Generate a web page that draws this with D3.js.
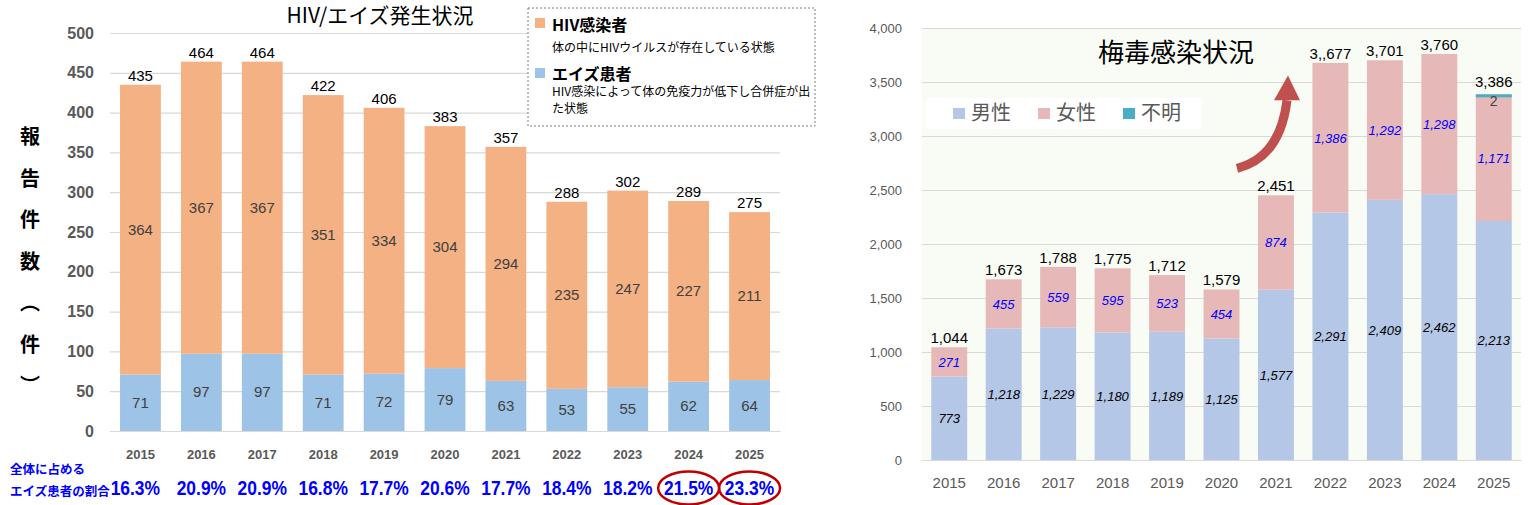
<!DOCTYPE html>
<html>
<head>
<meta charset="utf-8">
<script src="https://cdn.jsdelivr.net/npm/d3@7"></script>
<style>
  body { margin: 0; background: #fff; }
  svg text { font-family: "Liberation Sans", Arial, sans-serif; }
  .jp { font-family: "Noto Sans CJK JP", sans-serif !important; }
</style>
</head>
<body>
<div id="chart"></div>
<script>
// ---- data ----
const years = ["2015", "2016", "2017", "2018", "2019", "2020", "2021", "2022", "2023", "2024", "2025"];

// HIV / AIDS (left chart)
const hivCarriers = [364, 367, 367, 351, 334, 304, 294, 235, 247, 227, 211];
const aidsPatients = [71, 97, 97, 71, 72, 79, 63, 53, 55, 62, 64];
const aidsShare = [16.3, 20.9, 20.9, 16.8, 17.7, 20.6, 17.7, 18.4, 18.2, 21.5, 23.3];
const circledYears = ["2024", "2025"];
const leftTicks = [0, 50, 100, 150, 200, 250, 300, 350, 400, 450, 500];

// syphilis (right chart)
const syphMale = [773, 1218, 1229, 1180, 1189, 1125, 1577, 2291, 2409, 2462, 2213];
const syphFemale = [271, 455, 559, 595, 523, 454, 874, 1386, 1292, 1298, 1171];
const syphUnknown = [0, 0, 0, 0, 0, 0, 0, 0, 0, 0, 2];
const syphTotalLabels = ["1,044", "1,673", "1,788", "1,775", "1,712", "1,579", "2,451", "3,,677", "3,701", "3,760", "3,386"];
const rightTicks = [0, 500, 1000, 1500, 2000, 2500, 3000, 3500, 4000];

const W = 1532, H = 505;
const svg = d3.select("#chart").append("svg")
    .attr("width", W)
    .attr("height", H);

// =================== left chart ===================
const left = svg.append("g");

const xL = d3.scaleBand()
    .domain(years)
    .range([110, 780])
    .paddingInner(0.33)
    .paddingOuter(0.165);

const yL = d3.scaleLinear()
    .domain([0, 500])
    .range([431, 33]);

// gridlines + tick labels
const yAxisL = left.append("g")
    .attr("transform", "translate(110,0)")
    .call(d3.axisLeft(yL).tickValues(leftTicks).tickSize(-670).tickPadding(16));
yAxisL.select(".domain").remove();
yAxisL.selectAll(".tick line").attr("stroke", "#d9d9d9").attr("stroke-width", 1.2);
yAxisL.selectAll(".tick text")
    .attr("fill", "#595959")
    .style("font-size", "16px")
    .style("font-weight", "bold");

const xAxisL = left.append("g")
    .attr("transform", "translate(0,431)")
    .call(d3.axisBottom(xL).tickSize(0).tickPadding(19));
xAxisL.select(".domain").attr("stroke", "#d9d9d9").attr("stroke-width", 1.2);
xAxisL.selectAll(".tick text")
    .attr("fill", "#595959")
    .style("font-size", "13px")
    .style("font-weight", "bold");

const leftRows = years.map((y, i) => ({
    year: y, aids: aidsPatients[i], hiv: hivCarriers[i],
    total: aidsPatients[i] + hivCarriers[i], share: aidsShare[i]
}));

// AIDS patients (bottom)
left.selectAll("rect.aids")
    .data(leftRows)
    .enter().append("rect")
    .attr("class", "aids")
    .attr("x", d => xL(d.year))
    .attr("width", xL.bandwidth())
    .attr("y", d => yL(d.aids))
    .attr("height", d => yL(0) - yL(d.aids))
    .attr("fill", "#9dc3e6");

// HIV carriers (top)
left.selectAll("rect.hiv")
    .data(leftRows)
    .enter().append("rect")
    .attr("class", "hiv")
    .attr("x", d => xL(d.year))
    .attr("width", xL.bandwidth())
    .attr("y", d => yL(d.total))
    .attr("height", d => yL(d.aids) - yL(d.total))
    .attr("fill", "#f4b183");

// segment labels
left.selectAll("text.aidsLbl")
    .data(leftRows)
    .enter().append("text")
    .attr("x", d => xL(d.year) + xL.bandwidth() / 2)
    .attr("y", d => yL(d.aids / 2) + 5)
    .attr("text-anchor", "middle")
    .attr("fill", "#404040")
    .style("font-size", "15px")
    .text(d => d.aids);

left.selectAll("text.hivLbl")
    .data(leftRows)
    .enter().append("text")
    .attr("x", d => xL(d.year) + xL.bandwidth() / 2)
    .attr("y", d => yL(d.aids + d.hiv / 2) + 5)
    .attr("text-anchor", "middle")
    .attr("fill", "#404040")
    .style("font-size", "15px")
    .text(d => d.hiv);

// totals
left.selectAll("text.totLbl")
    .data(leftRows)
    .enter().append("text")
    .attr("x", d => xL(d.year) + xL.bandwidth() / 2)
    .attr("y", d => yL(d.total) - 4)
    .attr("text-anchor", "middle")
    .attr("fill", "#000")
    .style("font-size", "15px")
    .text(d => d.total);

// title
left.append("text")
    .attr("class", "jp")
    .attr("x", 380)
    .attr("y", 23)
    .attr("text-anchor", "middle")
    .style("font-size", "21px")
    .text("HIV/エイズ発生状況");

// vertical y-axis title
const yTitle = ["報", "告", "件", "数", "︵", "件", "︶"];
left.selectAll("text.ytitle")
    .data(yTitle)
    .enter().append("text")
    .attr("class", "jp")
    .attr("x", 30)
    .attr("y", (d, i) => 144 + i * 41.5)
    .attr("text-anchor", "middle")
    .style("font-size", "20px")
    .style("font-weight", "bold")
    .text(d => d);

// share row
left.append("text")
    .attr("class", "jp")
    .attr("x", 10).attr("y", 474)
    .attr("fill", "#0000ff")
    .style("font-size", "12.5px")
    .style("font-weight", "bold")
    .text("全体に占める");
const shareLabel = left.append("text")
    .attr("class", "jp")
    .attr("x", 10).attr("y", 496)
    .attr("fill", "#0000ff")
    .style("font-size", "12.5px")
    .style("font-weight", "bold")
    .text("エイズ患者の割合");
const shareLabelEnd = 10 + shareLabel.node().getComputedTextLength() + 1;

// condensed look: bold text squeezed horizontally
left.selectAll("text.share")
    .data(leftRows)
    .enter().append("text")
    .attr("transform", (d, i) => i === 0
        ? `translate(${shareLabelEnd},495) scale(0.83,1)`
        : `translate(${xL(d.year) + xL.bandwidth() / 2},495) scale(0.83,1)`)
    .attr("text-anchor", (d, i) => i === 0 ? "start" : "middle")
    .attr("fill", "#0000ff")
    .style("font-size", "21px")
    .style("font-weight", "bold")
    .text(d => d.share.toFixed(1) + "%");

left.selectAll("ellipse.hl")
    .data(circledYears)
    .enter().append("ellipse")
    .attr("cx", d => xL(d) + xL.bandwidth() / 2)
    .attr("cy", 488)
    .attr("rx", 30.5)
    .attr("ry", 16.5)
    .attr("fill", "none")
    .attr("stroke", "#c00000")
    .attr("stroke-width", 2.5);

// legend box
const lg = left.append("g");
lg.append("rect")
    .attr("x", 528).attr("y", 8)
    .attr("width", 287).attr("height", 118)
    .attr("fill", "#fff")
    .attr("stroke", "#7f7f7f")
    .attr("stroke-dasharray", "2,2");
lg.append("rect").attr("x", 535).attr("y", 18).attr("width", 10).attr("height", 10).attr("fill", "#f4b183");
lg.append("text").attr("class", "jp").attr("x", 552).attr("y", 31)
    .style("font-size", "16px").style("font-weight", "bold").text("HIV感染者");
lg.append("text").attr("class", "jp").attr("x", 552).attr("y", 52)
    .style("font-size", "12px").text("体の中にHIVウイルスが存在している状態");
lg.append("rect").attr("x", 535).attr("y", 68).attr("width", 10).attr("height", 10).attr("fill", "#9dc3e6");
lg.append("text").attr("class", "jp").attr("x", 552).attr("y", 80)
    .style("font-size", "16px").style("font-weight", "bold").text("エイズ患者");
lg.append("text").attr("class", "jp").attr("x", 552).attr("y", 96)
    .style("font-size", "12px").text("HIV感染によって体の免疫力が低下し合併症が出");
lg.append("text").attr("class", "jp").attr("x", 552).attr("y", 113)
    .style("font-size", "12px").text("た状態");

// =================== right chart ===================
const right = svg.append("g");

const xR = d3.scaleBand()
    .domain(years)
    .range([922, 1521])
    .paddingInner(0.34)
    .paddingOuter(0.17);

const yR = d3.scaleLinear()
    .domain([0, 4000])
    .range([460, 28]);

right.append("rect")
    .attr("x", 922).attr("y", yR(4000))
    .attr("width", 599).attr("height", yR(0) - yR(4000))
    .attr("fill", "#f9fbf5");

const yAxisR = right.append("g")
    .attr("transform", "translate(922,0)")
    .call(d3.axisLeft(yR).tickValues(rightTicks).tickSize(-599).tickPadding(20).tickFormat(d3.format(",")));
yAxisR.select(".domain").remove();
yAxisR.selectAll(".tick line").attr("stroke", "#d9d9d9").attr("stroke-width", 1.2);
yAxisR.selectAll(".tick text")
    .attr("fill", "#595959")
    .style("font-size", "13px");

const xAxisR = right.append("g")
    .attr("transform", "translate(0,460)")
    .call(d3.axisBottom(xR).tickSize(0).tickPadding(17));
xAxisR.select(".domain").attr("stroke", "#d9d9d9").attr("stroke-width", 1.2);
xAxisR.selectAll(".tick text")
    .attr("fill", "#595959")
    .style("font-size", "15px");

const rightRows = years.map((y, i) => ({
    year: y, male: syphMale[i], female: syphFemale[i], unknown: syphUnknown[i],
    label: syphTotalLabels[i]
}));
const stack = d3.stack().keys(["male", "female", "unknown"])(rightRows);
const rColors = { male: "#b4c7e7", female: "#e6b9b8", unknown: "#4bacc6" };

right.selectAll("g.series")
    .data(stack)
    .enter().append("g")
    .attr("fill", d => rColors[d.key])
    .selectAll("rect")
    .data(d => d.filter(p => p[1] > p[0]))
    .enter().append("rect")
    .attr("x", d => xR(d.data.year))
    .attr("width", xR.bandwidth())
    .attr("y", d => yR(d[1]))
    .attr("height", d => Math.max(yR(d[0]) - yR(d[1]), 3));

// segment labels
right.selectAll("text.maleLbl")
    .data(rightRows)
    .enter().append("text")
    .attr("x", d => xR(d.year) + xR.bandwidth() / 2)
    .attr("y", d => yR(d.male / 2) + 5)
    .attr("text-anchor", "middle")
    .attr("fill", "#000")
    .style("font-size", "13px")
    .style("font-style", "italic")
    .text(d => d3.format(",")(d.male));

right.selectAll("text.femLbl")
    .data(rightRows)
    .enter().append("text")
    .attr("x", d => xR(d.year) + xR.bandwidth() / 2)
    .attr("y", d => yR(d.male + d.female / 2) + 5)
    .attr("text-anchor", "middle")
    .attr("fill", "#0000ff")
    .style("font-size", "13px")
    .style("font-style", "italic")
    .text(d => d3.format(",")(d.female));

right.selectAll("text.unkLbl")
    .data(rightRows.filter(d => d.unknown > 0))
    .enter().append("text")
    .attr("x", d => xR(d.year) + xR.bandwidth() / 2)
    .attr("y", d => yR(d.male + d.female + d.unknown) + 12)
    .attr("text-anchor", "middle")
    .attr("fill", "#404040")
    .style("font-size", "14px")
    .text(d => d.unknown);

right.selectAll("text.totLbl")
    .data(rightRows)
    .enter().append("text")
    .attr("x", d => xR(d.year) + xR.bandwidth() / 2)
    .attr("y", d => yR(d.male + d.female + d.unknown) - (d.unknown > 0 ? 7 : 4))
    .attr("text-anchor", "middle")
    .attr("fill", "#000")
    .style("font-size", "15px")
    .text(d => d.label);

// title
right.append("text")
    .attr("class", "jp")
    .attr("x", 1176)
    .attr("y", 62)
    .attr("text-anchor", "middle")
    .style("font-size", "26px")
    .text("梅毒感染状況");

// legend
const rl = right.append("g");
rl.append("rect")
    .attr("x", 926).attr("y", 98)
    .attr("width", 276).attr("height", 31)
    .attr("fill", "#fff");
const rItems = [["男性", "male"], ["女性", "female"], ["不明", "unknown"]];
rItems.forEach((it, i) => {
    const x0 = 953 + i * 85;
    rl.append("rect").attr("x", x0).attr("y", 108).attr("width", 12).attr("height", 11)
        .attr("fill", rColors[it[1]]);
    rl.append("text").attr("class", "jp").attr("x", x0 + 18).attr("y", 120)
        .attr("fill", "#595959")
        .style("font-size", "20px")
        .text(it[0]);
});

// rising arrow annotation
const ax0 = xR("2021");
const arrow = right.append("g").attr("fill", "#c0504d").attr("stroke", "#c0504d");
arrow.append("path")
    .attr("d", `M${ax0 - 21},${yR(2700)} Q${ax0 + 22},${yR(2800)} ${ax0 + 29},${yR(3330)}`)
    .attr("fill", "none")
    .attr("stroke-width", 9);
arrow.append("path")
    .attr("d", `M${ax0 + 16},${yR(3330)} L${ax0 + 42},${yR(3330)} L${ax0 + 30},${yR(3560)} Z`)
    .attr("stroke", "none");
</script>
</body>
</html>
